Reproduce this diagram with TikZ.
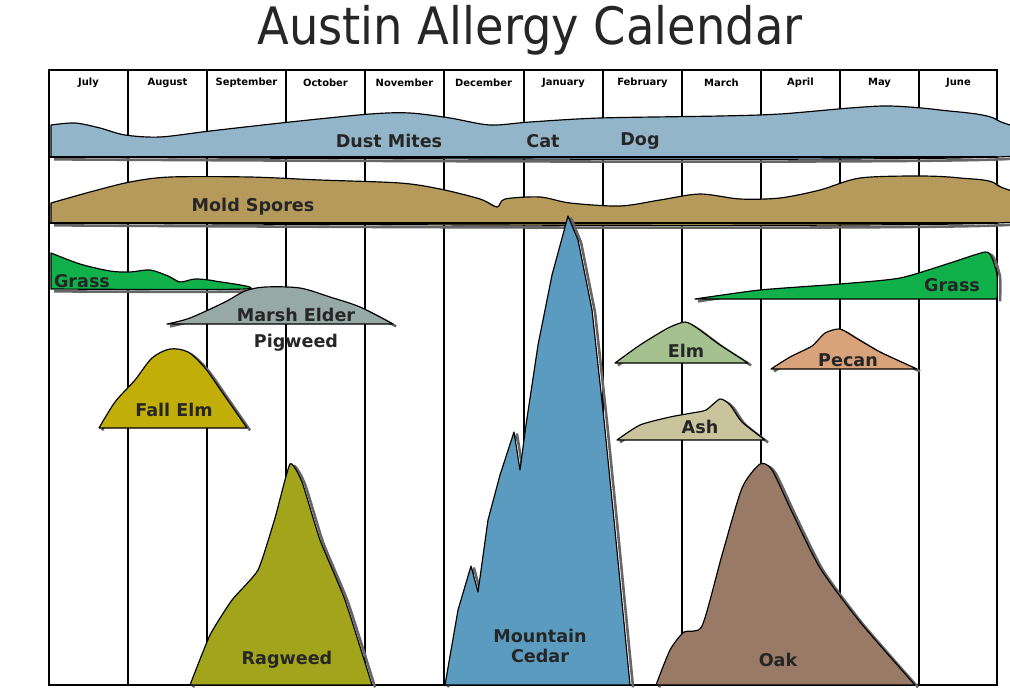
\documentclass[tikz,border=0pt]{standalone}
\usepackage{fontspec}
\setmainfont{DejaVu Sans}
\usepackage{tikz}

\definecolor{dustblue}{HTML}{93B5C9}
\definecolor{moldbrown}{HTML}{B59A5B}
\definecolor{grassgreen}{HTML}{10B04A}
\definecolor{marshgray}{HTML}{97A9A5}
\definecolor{fallelm}{HTML}{C2AE08}
\definecolor{elmgreen}{HTML}{A5C18F}
\definecolor{pecanorange}{HTML}{D8A27B}
\definecolor{ashtan}{HTML}{C9C49C}
\definecolor{ragweed}{HTML}{A2A41B}
\definecolor{cedarblue}{HTML}{5B9BBF}
\definecolor{oakbrown}{HTML}{997A66}

\tikzset{
	shadowline/.style={line width=2.2pt, gray!80!black, xshift=2.6pt, yshift=-2pt, line join=round},
	outline/.style={line width=1pt, black, line join=round},
	month/.style={font=\bfseries\fontsize{8.5}{10}\selectfont},
	plant/.style={font=\bfseries\fontsize{15}{17}\selectfont, text=black!85},
}
% #1 fill colour, #2 plot options, #3 top outline
\newcommand\bloom[3]{
	\draw[shadowline] plot[#2] coordinates {#3};
	\filldraw[outline, fill=#1] plot[#2] coordinates {#3} -- cycle;
}

\begin{document}
\begin{tikzpicture}[x=0.03cm, y=-0.03cm]
	\useasboundingbox (0,0) rectangle (1010,687);
	\node[font=\fontsize{44}{50}\selectfont, xscale=0.9, text=black!85] (title) at (530,30) {Austin Allergy Calendar};
	% grid and months
	\draw[line width=1.2pt] (49,70) rectangle (997,685);
	\foreach \xx/\mon [count=\i] in {49/July,128/August,207/September,286/October,365/November,444/December,524/January,603/February,682/March,761/April,840/May,919/June} {
		\draw[line width=1.1pt] (\xx,70) -- (\xx,685);
		\node[month] (m\i) at (\xx+39.5,83) {\mon};
	}
	% year-round bands
	\bloom{dustblue}{smooth,tension=0.5}{(51,125) (75,123) (100,128) (125,135) (160,137) (210,131) (290,122) (370,114) (410,113) (450,118) (490,125) (530,122) (600,118) (720,116) (780,114) (850,108) (890,106) (940,110) (997,120) (997,157) (51,157)}
	\draw[outline] (49,157) -- (997,157);
	\node[plant] (dust) at (389,141) {Dust Mites};
	\node[plant] (cat) at (543,141) {Cat};
	\node[plant] (dog) at (640,141) {Dog};
	\bloom{moldbrown}{smooth,tension=0.5}{(51,203) (90,192) (130,182) (170,177) (250,177) (320,180) (400,183) (440,189) (480,199) (497,207) (505,199) (540,197) (570,203) (620,206) (660,200) (700,194) (740,199) (780,198) (820,190) (860,178) (920,176) (960,178) (997,185) (997,223) (51,223)}
	\draw[outline] (49,223) -- (997,223);
	\node[plant] (mold) at (253,207) {Mold Spores};
	% seasonal pollen
	\bloom{grassgreen}{smooth,tension=0.5}{(51,253) (80,264) (110,271) (130,272) (150,270) (168,276) (180,282) (195,279) (215,281) (245,289) (51,289)}
	\node[plant] (grassA) at (82,281) {Grass};
	\bloom{grassgreen}{smooth,tension=0.4}{(695,299) (760,290) (840,284) (900,278) (950,263) (985,252) (992,258) (997,275) (997,299)}
	\node[plant] (grassB) at (952,285) {Grass};
	\bloom{marshgray}{smooth,tension=0.5}{(167,324) (190,318) (225,302) (245,291) (265,287) (300,288) (330,297) (360,307) (393,324)}
	\node[plant] (marsh) at (296,315) {Marsh Elder};
	\node[plant] (pigweed) at (296,343) {Pigweed};
	\bloom{fallelm}{smooth,tension=0.5}{(99,428) (115,402) (135,380) (152,358) (170,349) (188,352) (205,368) (222,392) (247,428)}
	\node[plant] (fallelm) at (174,410) {Fall Elm};
	\bloom{elmgreen}{smooth,tension=0.4}{(615,363) (640,345) (668,328) (685,322) (697,328) (720,345) (748,363)}
	\node[plant] (elm) at (686,351) {Elm};
	\bloom{pecanorange}{smooth,tension=0.4}{(771,369) (790,357) (812,346) (825,333) (840,329) (856,338) (880,352) (917,369)}
	\node[plant] (pecan) at (848,360) {Pecan};
	\bloom{ashtan}{smooth,tension=0.4}{(617,440) (640,425) (670,417) (692,413) (706,410) (720,399) (730,405) (742,422) (765,440)}
	\node[plant] (ash) at (700,427) {Ash};
	\bloom{ragweed}{smooth,tension=0.3}{(190,685) (210,635) (232,600) (258,570) (275,518) (290,464) (302,482) (320,540) (345,600) (372,685)}
	\node[plant] (ragweed) at (287,660) {Ragweed};
	\bloom{cedarblue}{}{(445,685) (458,610) (471,566) (478,592) (488,520) (500,475) (514,432) (520,470) (526,425) (538,345) (552,275) (568,216) (578,240) (592,310) (604,420) (614,520) (630,685)}
	\node[plant, align=center] (cedar) at (540,646) {Mountain\\Cedar};
	\bloom{oakbrown}{smooth,tension=0.4}{(656,685) (670,650) (684,632) (702,626) (722,555) (742,488) (760,464) (772,470) (792,512) (820,568) (860,622) (915,685)}
	\node[plant] (oak) at (778,660) {Oak};
\end{tikzpicture}
\end{document}
